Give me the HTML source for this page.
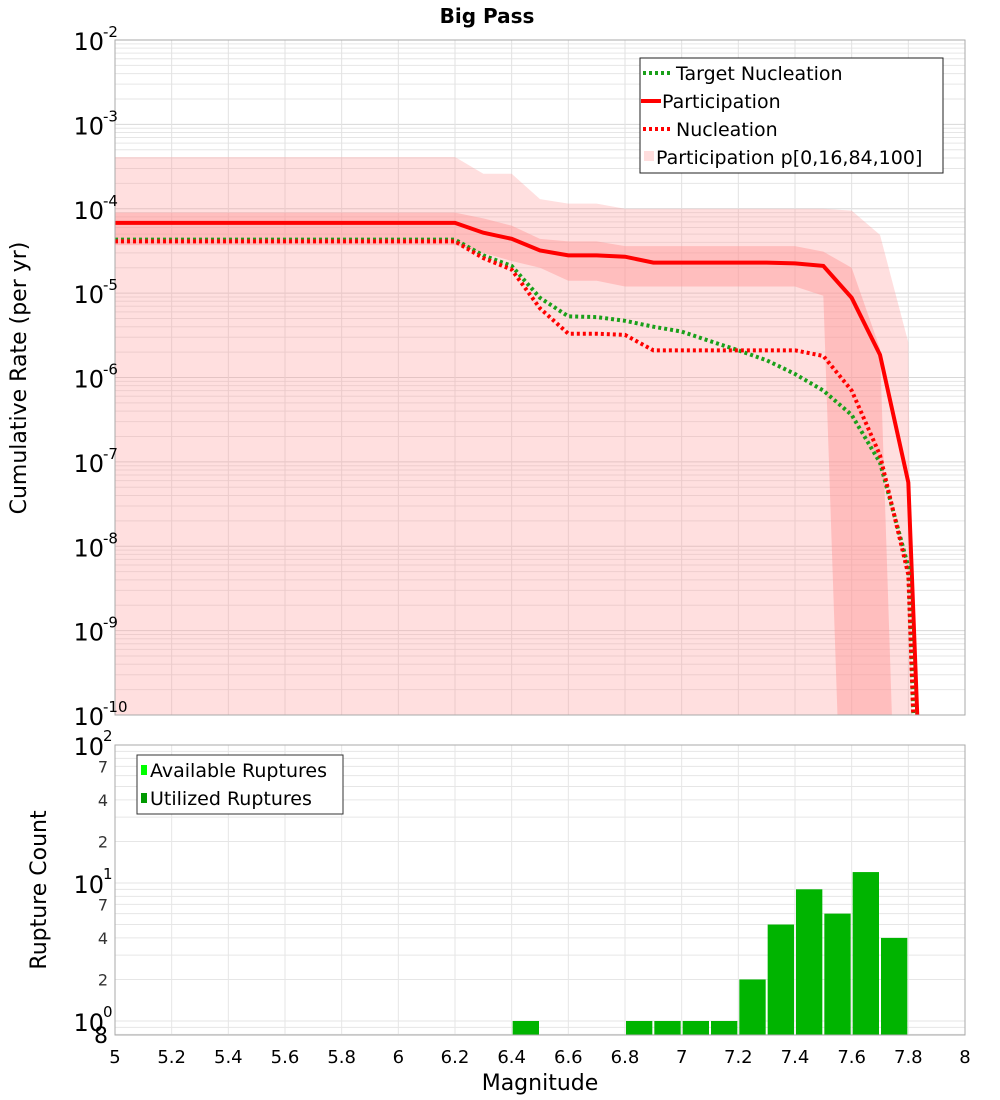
<!DOCTYPE html>
<html><head><meta charset="utf-8"><style>
body{margin:0;background:#fff;}
svg{display:block;font-family:"DejaVu Sans","Liberation Sans",sans-serif;}
</style></head><body>
<svg id="chart" width="1000" height="1100" viewBox="0 0 1000 1100" xmlns="http://www.w3.org/2000/svg">
<text x="487" y="23" text-anchor="middle" font-size="20" font-weight="bold">Big Pass</text>
<g id="topg"></g>
<g id="botg"></g>
<text transform="translate(26,378) rotate(-90)" text-anchor="middle" font-size="22">Cumulative Rate (per yr)</text>
<text transform="translate(46,890) rotate(-90)" text-anchor="middle" font-size="22">Rupture Count</text>
<text x="540" y="1090" text-anchor="middle" font-size="22">Magnitude</text>
</svg>
<script>
const mags = [5.0,5.1,5.2,5.3,5.4,5.5,5.6,5.7,5.8,5.9,6.0,6.1,6.2,6.3,6.4,6.5,6.6,6.7,6.8,6.9,7.0,7.1,7.2,7.3,7.4,7.5,7.6,7.7,7.8,7.9];
const participation = [6.8e-5,6.8e-5,6.8e-5,6.8e-5,6.8e-5,6.8e-5,6.8e-5,6.8e-5,6.8e-5,6.8e-5,6.8e-5,6.8e-5,6.8e-5,5.2e-5,4.4e-5,3.2e-5,2.8e-5,2.8e-5,2.7e-5,2.3e-5,2.3e-5,2.3e-5,2.3e-5,2.3e-5,2.25e-5,2.1e-5,8.8e-6,1.86e-6,5.7e-8,1e-16];
const targetNucleation = [4.3e-5,4.3e-5,4.3e-5,4.3e-5,4.3e-5,4.3e-5,4.3e-5,4.3e-5,4.3e-5,4.3e-5,4.3e-5,4.3e-5,4.3e-5,2.8e-5,2.1e-5,8.8e-6,5.3e-6,5.2e-6,4.7e-6,4.0e-6,3.5e-6,2.7e-6,2.1e-6,1.6e-6,1.1e-6,7e-7,3.6e-7,9.8e-8,5.7e-9,1e-18];
const nucleation = [4.1e-5,4.1e-5,4.1e-5,4.1e-5,4.1e-5,4.1e-5,4.1e-5,4.1e-5,4.1e-5,4.1e-5,4.1e-5,4.1e-5,4.1e-5,2.6e-5,1.9e-5,6.6e-6,3.3e-6,3.3e-6,3.2e-6,2.1e-6,2.1e-6,2.1e-6,2.1e-6,2.1e-6,2.1e-6,1.8e-6,7e-7,1.2e-7,4.6e-9,1e-18];
const p100 = [4.1e-4,4.1e-4,4.1e-4,4.1e-4,4.1e-4,4.1e-4,4.1e-4,4.1e-4,4.1e-4,4.1e-4,4.1e-4,4.1e-4,4.1e-4,2.6e-4,2.6e-4,1.3e-4,1.15e-4,1.15e-4,1.0e-4,1.0e-4,1.0e-4,1.0e-4,1.0e-4,1.0e-4,1.0e-4,1.0e-4,9.5e-5,4.9e-5,2.6e-6,1e-40];
const p84 = [9e-5,9e-5,9e-5,9e-5,9e-5,9e-5,9e-5,9e-5,9e-5,9e-5,9e-5,9e-5,9e-5,7.7e-5,6.3e-5,4.4e-5,4.1e-5,4.1e-5,3.6e-5,3.6e-5,3.6e-5,3.6e-5,3.6e-5,3.6e-5,3.6e-5,3.1e-5,2.0e-5,2.2e-6,1e-16,1e-16];
const p16 = [3.7e-5,3.7e-5,3.7e-5,3.7e-5,3.7e-5,3.7e-5,3.7e-5,3.7e-5,3.7e-5,3.7e-5,3.7e-5,3.7e-5,3.7e-5,3.0e-5,2.4e-5,2.0e-5,1.4e-5,1.4e-5,1.2e-5,1.2e-5,1.2e-5,1.2e-5,1.2e-5,1.2e-5,1.2e-5,9.3e-6,1e-15,1e-15,1e-15,1e-15];
const p0 = [1e-12,1e-12,1e-12,1e-12,1e-12,1e-12,1e-12,1e-12,1e-12,1e-12,1e-12,1e-12,1e-12,1e-12,1e-12,1e-12,1e-12,1e-12,1e-12,1e-12,1e-12,1e-12,1e-12,1e-12,1e-12,1e-12,1e-12,1e-12,1e-12,1e-40];
const binStarts = [6.4,6.8,6.9,7.0,7.1,7.2,7.3,7.4,7.5,7.6,7.7];
const utilizedCounts = [1,1,1,1,1,2,5,9,6,12,4];
const xTicks = ["5","5.2","5.4","5.6","5.8","6","6.2","6.4","6.6","6.8","7","7.2","7.4","7.6","7.8","8"];
const topDecades = [-2,-3,-4,-5,-6,-7,-8,-9,-10];
const botMinorLabels = ["7","4","2"];

const NS="http://www.w3.org/2000/svg";
function mk(parent,tag,attrs,text){const e=document.createElementNS(NS,tag);for(const k in attrs)e.setAttribute(k,attrs[k]);if(text!==undefined)e.textContent=text;parent.appendChild(e);return e;}
const L=115,R=965,T1=40,B1=715,T2=745,B2=1035;
const xs=m=>L+(m-5)/3*(R-L);
const y1=v=>T1+(-2-Math.log10(v))*(B1-T1)/8;
const y2=v=>T2+(2-Math.log10(v))*138;
const topG=document.getElementById('topg'),botG=document.getElementById('botg');

const defs=mk(document.getElementById('chart'),'defs',{});
const c1=mk(defs,'clipPath',{id:'c1'});mk(c1,'rect',{x:L,y:T1,width:R-L,height:B1-T1});
const c2=mk(defs,'clipPath',{id:'c2'});mk(c2,'rect',{x:L,y:T2,width:R-L,height:B2-T2});

const g1=mk(topG,'g',{'clip-path':'url(#c1)'});


for(let d=-10;d<-2;d++)for(let k=1;k<10;k++){const y=y1(k*Math.pow(10,d));mk(g1,'line',{x1:L,x2:R,y1:y,y2:y,stroke:k==1?'#d8d8d8':'#e6e6e6','stroke-width':1});}
for(let i=0;i<xTicks.length;i++){const x=xs(parseFloat(xTicks[i]));mk(g1,'line',{x1:x,x2:x,y1:T1,y2:B1,stroke:'#e2e2e2'});}
function band(g,hi,lo,fill,name){let d='M';mags.forEach((m,i)=>{d+=xs(m)+','+y1(hi[i])+' L';});for(let i=mags.length-1;i>=0;i--){d+=xs(mags[i])+','+y1(lo[i])+(i?' L':' Z');}const p=mk(g,'path',{d:d,fill:fill});}
band(g1,p100,p0,'rgba(255,150,150,0.3)','band-p0-p100');
band(g1,p84,p16,'rgba(255,150,150,0.45)','band-p16-p84');
function drawLine(g,vals,color,dash,w,name){const pts=mags.map((m,i)=>xs(m)+','+y1(vals[i])).join(' ');const p=mk(g,'polyline',{points:pts,fill:'none',stroke:color,'stroke-width':w,'stroke-dasharray':dash});}
drawLine(g1,participation,'#ff0000','none',4,'participation-line');
drawLine(g1,targetNucleation,'#1aa01a','3,3',4,'target-nucleation-line');
drawLine(g1,nucleation,'#ff0000','3,3',4,'nucleation-line');
const f1=mk(topG,'rect',{x:L,y:T1,width:R-L,height:B1-T1,fill:'none',stroke:'#aaa'});


topDecades.forEach(d=>{const y=y1(Math.pow(10,d));const t=mk(topG,'text',{x:104,y:y+10,'text-anchor':'end','font-size':24},'10');mk(topG,'text',{x:103,y:y-3,'font-size':15},String(d));});
const lg=mk(topG,'g',{});


mk(lg,'rect',{x:640,y:58,width:303,height:115,fill:'#fff',stroke:'#222'});
mk(lg,'line',{x1:643,x2:670,y1:73,y2:73,stroke:'#1aa01a','stroke-width':4,'stroke-dasharray':'3,3'});
mk(lg,'text',{x:676,y:80,'font-size':19},'Target Nucleation');
mk(lg,'line',{x1:641,x2:661,y1:101,y2:101,stroke:'#f00','stroke-width':4});
mk(lg,'text',{x:662,y:108,'font-size':19},'Participation');
mk(lg,'line',{x1:643,x2:670,y1:129,y2:129,stroke:'#f00','stroke-width':4,'stroke-dasharray':'3,3'});
mk(lg,'text',{x:676,y:136,'font-size':19},'Nucleation');
mk(lg,'rect',{x:644,y:151,width:10,height:10,fill:'#ffdede'});
mk(lg,'text',{x:656,y:164,'font-size':19},'Participation p[0,16,84,100]');

const g2=mk(botG,'g',{'clip-path':'url(#c2)'});


for(let d=-1;d<2;d++)for(let k=1;k<10;k++){const y=y2(k*Math.pow(10,d));mk(g2,'line',{x1:L,x2:R,y1:y,y2:y,stroke:'#e6e6e6'});}
for(let i=0;i<xTicks.length;i++){const x=xs(parseFloat(xTicks[i]));mk(g2,'line',{x1:x,x2:x,y1:T2,y2:B2,stroke:'#e6e6e6'});}
binStarts.forEach((m,i)=>{const x0=xs(m),x1=xs(m+0.1),y=y2(utilizedCounts[i]);const r=mk(g2,'rect',{x:x0+1,y:y,width:x1-x0-2,height:B2+5-y,fill:'#00b400'});});
const f2=mk(botG,'rect',{x:L,y:T2,width:R-L,height:B2-T2,fill:'none',stroke:'#aaa'});


[2,1,0].forEach(d=>{const y=y2(Math.pow(10,d));const t=mk(botG,'text',{x:104,y:y+10,'text-anchor':'end','font-size':24},'10');mk(botG,'text',{x:103,y:y-4,'font-size':15},String(d));});
[1,0].forEach(d=>{botMinorLabels.forEach(s=>{const y=y2(parseFloat(s)*Math.pow(10,d));mk(botG,'text',{x:108,y:y+6,'text-anchor':'end','font-size':16,fill:'#333'},s);});});
mk(botG,'text',{x:108,y:1043,'text-anchor':'end','font-size':22},'8');
xTicks.forEach(s=>{const t=mk(botG,'text',{x:xs(parseFloat(s)),y:1063,'text-anchor':'middle','font-size':18},s);});
const lg2=mk(botG,'g',{});


mk(lg2,'rect',{x:137,y:755,width:206,height:59,fill:'#fff',stroke:'#333'});
mk(lg2,'rect',{x:141,y:765,width:6,height:10,fill:'#00ff00'});
mk(lg2,'text',{x:150,y:777,'font-size':19},'Available Ruptures');
mk(lg2,'rect',{x:141,y:793,width:6,height:10,fill:'#009900'});
mk(lg2,'text',{x:150,y:805,'font-size':19},'Utilized Ruptures');
</script>
</body></html>
